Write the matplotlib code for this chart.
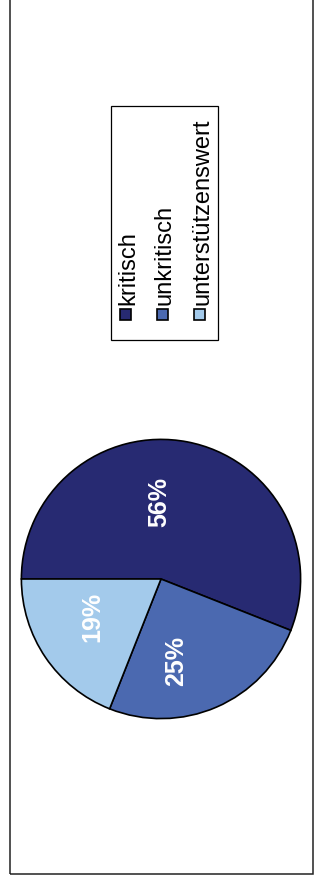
import matplotlib
matplotlib.use("Agg")
import matplotlib.pyplot as plt
from matplotlib.patches import Rectangle

plt.rcParams['font.family'] = ['Liberation Sans', 'DejaVu Sans']

categories = ["kritisch", "unkritisch", "unterstützenswert"]
values = [56, 25, 19]
colors = ["#272A72", "#4B69B0", "#A3CAEB"]

W, H = 315, 884
fig = plt.figure(figsize=(W / 100, H / 100), dpi=100)

# outer frame
fig.patches.append(Rectangle((10 / W, (H - 874) / H), 303 / W, 874 / H + 0.01,
                             transform=fig.transFigure, fill=False,
                             edgecolor="#222222", linewidth=1.1))

# pie
cx, cy, r = 161, 579, 141
ax = fig.add_axes([(cx - r) / W, (H - cy - r) / H, 2 * r / W, 2 * r / H])
wedges, texts, autotexts = ax.pie(values, colors=colors, startangle=180,
                                  counterclock=False, radius=1.0,
                                  autopct=lambda p: f"{p:.0f}%", pctdistance=0.56,
                                  wedgeprops=dict(edgecolor="black", linewidth=1.2))
# small label nudges (pixels) to mimic the original label placement
nudges = [(-17, 0), (-16, -10), (-4, 6)]
for t, (dx, dy) in zip(autotexts, nudges):
    x, y = t.get_position()
    t.set_position((x + dx / r, y + dy / r))
    t.set_rotation(90)
    t.set_color("white")
    t.set_fontweight("bold")
    t.set_fontsize(18)
    t.set_ha("center")
    t.set_va("center")
    t.set_rotation_mode("anchor")
ax.set_xlim(-1.01, 1.01)
ax.set_ylim(-1.01, 1.01)
ax.set_aspect("equal")
ax.axis("off")

# legend (rotated)
lx0, lx1, ly0, ly1 = 111, 218, 106, 340
fig.patches.append(Rectangle((lx0 / W, (H - ly1) / H), (lx1 - lx0) / W, (ly1 - ly0) / H,
                             transform=fig.transFigure, fill=False,
                             edgecolor="black", linewidth=0.9))
xs = [125, 162, 199]
for x, lab, c in zip(xs, categories, colors):
    s = 11
    fig.patches.append(Rectangle(((x - 5.5) / W, (H - 320) / H), s / W, s / H,
                                 transform=fig.transFigure, facecolor=c,
                                 edgecolor="black", linewidth=1.2))
    fig.text((x + 3) / W, (H - 305) / H, lab, rotation=90, fontsize=17,
             ha="center", va="bottom", color="black")

fig.savefig("out.png", dpi=100)
